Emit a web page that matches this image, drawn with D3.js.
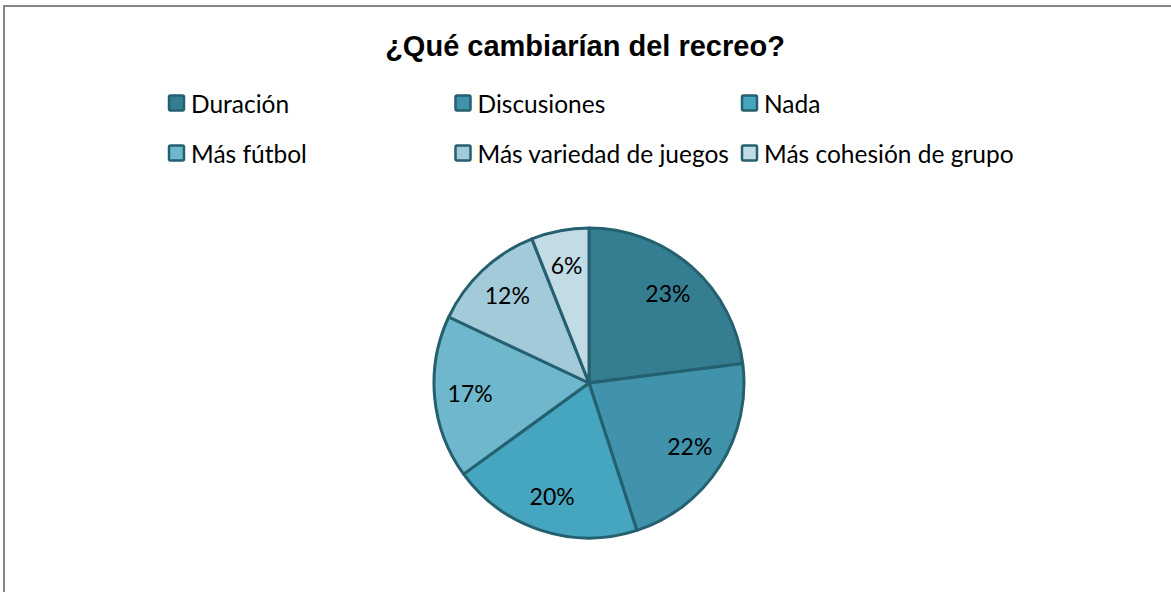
<!DOCTYPE html>
<html>
<head>
<meta charset="utf-8">
<script src="https://cdn.jsdelivr.net/npm/d3@7"></script>
<style>
  body { margin: 0; background: #fff; }
  svg { display: block; }
</style>
</head>
<body>
<div id="chart"></div>
<script>
// Données
const categories = ["Duración", "Discusiones", "Nada", "Más fútbol", "Más variedad de juegos", "Más cohesión de grupo"];
const values = [23, 22, 20, 17, 12, 6];
const colors = ["#357d91", "#4093ab", "#47a6bf", "#6fb7cd", "#a3cad9", "#c3dbe4"];
const title = "¿Qué cambiarían del recreo?";

const width = 1171, height = 592;
const cx = 589, cy = 383, radius = 155;

const svg = d3.select("#chart").append("svg")
    .attr("width", width).attr("height", height);

// cadre gris
svg.append("path")
    .attr("d", `M4,${height} L4,6 L${width},6`)
    .attr("fill", "none")
    .attr("stroke", "#868686")
    .attr("stroke-width", 2);

// titre
svg.append("text")
    .attr("x", 585).attr("y", 56)
    .attr("text-anchor", "middle")
    .style("font-family", "Liberation Sans, Arial, sans-serif")
    .style("font-weight", "bold")
    .style("font-size", "29px")
    .text(title);

// légende
const legend = svg.append("g").selectAll("g")
    .data(categories)
    .enter().append("g")
    .attr("transform", (d, i) => `translate(${169 + (i % 3) * 286.5},${103 + Math.floor(i / 3) * 50})`);

legend.append("rect")
    .attr("x", 0).attr("y", -7.5)
    .attr("width", 15).attr("height", 15)
    .attr("rx", 1.5)
    .attr("fill", (d, i) => colors[i])
    .attr("stroke", "#24606f")
    .attr("stroke-width", 2.5);

legend.append("text")
    .attr("x", 22).attr("y", 1)
    .attr("dy", "0.35em")
    .style("font-family", "Lato, 'Open Sans', sans-serif")
    .style("font-size", "24.5px")
    .text(d => d);

// camembert
const pie = d3.pie().sort(null).value(d => d);
const arc = d3.arc().innerRadius(0).outerRadius(radius);
const labelArc = d3.arc().innerRadius(radius * 0.77).outerRadius(radius * 0.77);

const g = svg.append("g").attr("transform", `translate(${cx},${cy})`);

g.selectAll("path")
    .data(pie(values))
    .enter().append("path")
    .attr("d", arc)
    .attr("fill", (d, i) => colors[i])
    .attr("stroke", "#24606f")
    .attr("stroke-width", 3)
    .attr("stroke-linejoin", "round");

g.selectAll("text")
    .data(pie(values))
    .enter().append("text")
    .attr("transform", d => `translate(${labelArc.centroid(d)})`)
    .attr("text-anchor", "middle")
    .attr("dy", "0.35em")
    .style("font-family", "Lato, 'Open Sans', sans-serif")
    .style("font-size", "23px")
    .text(d => `${d.data}%`);
</script>
</body>
</html>
